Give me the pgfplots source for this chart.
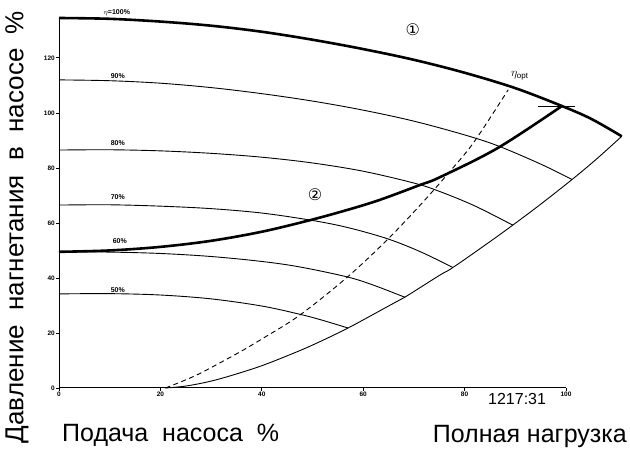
\documentclass[border=0pt]{standalone}
\usepackage{fontspec}
\setmainfont{Liberation Sans}
\newfontfamily\dejavu{DejaVu Sans}
\usepackage{pgfplots}
\pgfplotsset{compat=1.18}
\begin{document}
\begin{tikzpicture}[x=1pt,y=1pt]
\useasboundingbox (-59,-61) rectangle (571,388);
\begin{axis}[at={(0,0)}, anchor=south west, scale only axis,
  width=507pt, height=370pt,
  xmin=0, xmax=100, ymin=0, ymax=134.5, clip=false,
  axis x line=bottom, axis y line=left,
  axis line style={-, line width=1pt},
  xtick={0,20,...,100}, ytick={0,20,...,120},
  tick align=outside, major tick length=3pt,
  tick style={line width=0.8pt, black},
  tick label style={font=\fontsize{6.5}{7}\selectfont\bfseries},
  /pgf/number format/assume math mode=true,
  xticklabel style={inner sep=1pt},
  yticklabel style={inner sep=1pt},
  every axis plot/.append style={black, smooth, tension=0.55},
]
% speed curves
\addplot[line width=2.6pt] coordinates {(0,134.5)(10,134.2)(20,133.2)(30,131.7)(40,129.5)(50,126.6)(60,123.2)(70,119.3)(80,114.6)(90,109)(99.2,102.5)(105,97.8)(111,91.5)};
\addplot[line width=0.9pt] coordinates {(0,112)(10,111.7)(20,110.8)(30,109.2)(40,107)(50,104.3)(60,101)(70,97)(80,92)(86.6,88)(95,81.4)(101.2,75.8)};
\addplot[line width=0.9pt] coordinates {(0,86.5)(10,86.6)(20,86.2)(30,85.3)(40,83.9)(50,81.8)(60,78.8)(70,74.5)(75,71.5)(82,66.2)(89.5,59.2)};
\addplot[line width=0.9pt] coordinates {(0,66.5)(10,66.6)(20,66.1)(30,65.2)(40,63.6)(50,60.9)(57,58.3)(64.7,54.3)(71.2,49.6)(77.7,43.8)};
\addplot[line width=0.9pt] coordinates {(0,49.5)(10,49.4)(20,48.9)(30,47.8)(40,46)(47.5,44)(56.8,40.4)(62,37.4)(68.2,33)};
\addplot[line width=0.9pt] coordinates {(0,34.2)(10,34.3)(20,33.8)(30,32.4)(40,29.8)(47.5,26.8)(52,24.6)(57,21.8)};
% boundary curve
\addplot[line width=0.9pt] coordinates {(21,0)(25,0.7)(30,2.5)(35,5.1)(40,8.1)(45,11.7)(50,15.6)(57,21.8)(65,29.8)(68.2,33)(75,40.9)(77.7,43.8)(85,53.2)(89.5,59.2)(95,66.8)(101.2,75.8)(106,83.2)(111,91.5)};
% eta opt dashed
\addplot[line width=0.9pt, dash pattern=on 5pt off 3.5pt] coordinates {(21,0)(24,2.2)(27.8,5.3)(35,12.4)(40,17.8)(47.5,26.5)(56.8,40.2)(64.7,53.8)(71.6,67.2)(77.7,80)(82,89.8)(88.6,108.4)};
% system curve 2
\addplot[line width=2.6pt] coordinates {(0,49.5)(10,50)(20,51.3)(30,53.5)(40,56.8)(49.5,61)(57,64.8)(63.3,68.4)(71.2,73.8)(75.1,76.6)(86.6,87.3)(99.2,102.5)};
\addplot[line width=0.9pt, sharp plot] coordinates {(94.5,102.5)(101.8,102.5)};
% labels
\begin{scope}[every node/.style={font=\fontsize{7}{8}\selectfont\bfseries, inner sep=0pt}]
\node at (axis cs:11.4,136.3) {$\eta$=100\%};
\node at (axis cs:11.6,113.5) {90\%};
\node at (axis cs:11.6,89.1) {80\%};
\node at (axis cs:11.6,69.5) {70\%};
\node at (axis cs:12,53.5) {60\%};
\node at (axis cs:11.6,35.6) {50\%};
\end{scope}
\node[font=\dejavu\fontsize{16}{16}\selectfont] at (axis cs:69.8,130.2) {①};
\node[font=\dejavu\fontsize{16}{16}\selectfont] at (axis cs:50.5,70.2) {②};
\node[font=\fontsize{12}{12}\selectfont] at (axis cs:90.9,113.5) {$\eta_{\mathrm{opt}}$};
\end{axis}
\node[rotate=90, font=\fontsize{26}{26}\selectfont, inner sep=0pt] at (-42,161) {Давление\ \ нагнетания\ \ в\ \ насосе\ \ \%};
\node[anchor=base west, font=\fontsize{25}{25}\selectfont, inner sep=0pt] at (3,-54) {Подача\ \ насоса\ \ \%};
\node[anchor=base east, font=\fontsize{25}{25}\selectfont, inner sep=0pt] at (568,-55) {Полная нагрузка};
\node[anchor=base west, font=\fontsize{16}{16}\selectfont, inner sep=0pt] at (429,-17) {1217:31};
\end{tikzpicture}
\end{document}
